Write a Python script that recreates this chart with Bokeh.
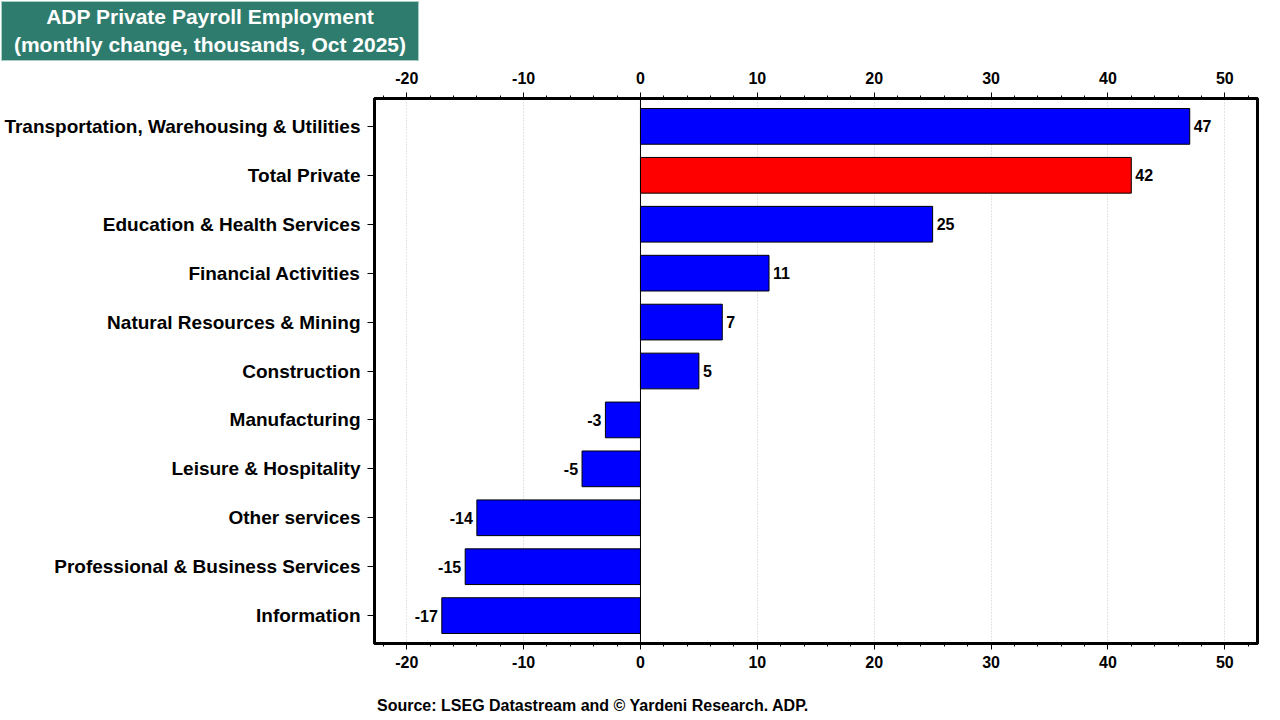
from bokeh.plotting import figure
from bokeh.models import (ColumnDataSource, FactorRange, Range1d, LinearAxis,
                          SingleIntervalTicker, Span, Div, PrintfTickFormatter)
from bokeh.layouts import column
from bokeh.core.properties import value
from bokeh.embed import file_html
from bokeh.resources import INLINE

# ---- data (top to bottom as in chart) ----
categories = [
    "Transportation, Warehousing & Utilities",
    "Total Private",
    "Education & Health Services",
    "Financial Activities",
    "Natural Resources & Mining",
    "Construction",
    "Manufacturing",
    "Leisure & Hospitality",
    "Other services",
    "Professional & Business Services",
    "Information",
]
values = [47, 42, 25, 11, 7, 5, -3, -5, -14, -15, -17]
highlight = "Total Private"
x_ticks_interval = 10
title_lines = ["ADP Private Payroll Employment",
               "(monthly change, thousands, Oct 2025)"]
source_text = "Source: LSEG Datastream and \u00a9 Yardeni Research. ADP."

FONT = "Liberation Sans"

colors = ["#FF0000" if c == highlight else "#0000FF" for c in categories]
labels = [str(v) for v in values]
aligns = ["left" if v >= 0 else "right" for v in values]
offsets = [4 if v >= 0 else -4 for v in values]

src = ColumnDataSource(dict(cat=categories, val=values, color=colors,
                            lbl=labels, align=aligns, xoff=offsets))

factors = list(reversed(categories))

p = figure(width=1270, height=634, output_backend="svg", toolbar_location=None,
           y_range=FactorRange(factors=factors, range_padding=0.07,
                               range_padding_units="absolute"),
           x_range=Range1d(-22.76, 52.8),
           x_axis_location="below",
           min_border_left=374, min_border_right=13,
           min_border_top=37, min_border_bottom=52)

p.background_fill_color = "white"
p.border_fill_color = "white"
p.outline_line_color = "black"
p.outline_line_width = 3

p.hbar(y="cat", right="val", left=0, height=0.73, source=src,
       fill_color="color", line_color="black", line_width=1)

p.text(x="val", y="cat", text="lbl", x_offset="xoff", text_align="align",
       text_baseline="middle", text_font=value(FONT), text_font_size="16px",
       text_font_style="bold", text_color="black", source=src)

p.add_layout(Span(location=0, dimension="height", line_color="black",
                  line_width=1))

ticker = SingleIntervalTicker(interval=x_ticks_interval, num_minor_ticks=5)


def style_x(ax, standoff):
    ax.ticker = ticker
    ax.formatter = PrintfTickFormatter(format="%d")
    ax.axis_line_width = 3
    ax.axis_line_color = "black"
    ax.major_tick_in = 0
    ax.major_tick_out = 6
    ax.minor_tick_in = 0
    ax.minor_tick_out = 3
    ax.major_tick_line_color = "black"
    ax.minor_tick_line_color = "black"
    ax.major_label_text_font = FONT
    ax.major_label_text_font_size = "16px"
    ax.major_label_text_font_style = "bold"
    ax.major_label_text_color = "black"
    ax.major_label_standoff = standoff


style_x(p.xaxis[0], 6)
top_ax = LinearAxis()
style_x(top_ax, 9)
p.add_layout(top_ax, "above")

ya = p.yaxis[0]
ya.axis_line_width = 3
ya.axis_line_color = "black"
ya.major_tick_in = 0
ya.major_tick_out = 7
ya.minor_tick_line_color = None
ya.major_label_text_font = FONT
ya.major_label_text_font_size = "19px"
ya.major_label_text_font_style = "bold"
ya.major_label_text_color = "black"
ya.major_label_standoff = 7

p.xgrid.grid_line_color = "#C8C8C8"
p.xgrid.grid_line_dash = "1 2"
p.xgrid.grid_line_width = 1
p.xgrid.ticker = ticker
p.ygrid.grid_line_color = None

title_div = Div(
    text="<br>".join(title_lines),
    width=418, height=60, margin=(1, 0, 0, 1),
    styles={"background-color": "#2E7C6E", "color": "white",
            "font-family": FONT, "font-weight": "bold", "font-size": "21px",
            "text-align": "center", "line-height": "28px",
            "padding-top": "1px", "box-sizing": "border-box",
            "border": "1px solid #A8CFC6"})

source_div = Div(
    text=source_text, width=520, height=22, margin=(0, 0, 0, 377),
    styles={"color": "black", "font-family": FONT, "font-weight": "bold",
            "font-size": "16px", "line-height": "22px"})

layout = column(title_div, p, source_div, spacing=0)

open("out.html", "w").write(file_html(layout, INLINE))
